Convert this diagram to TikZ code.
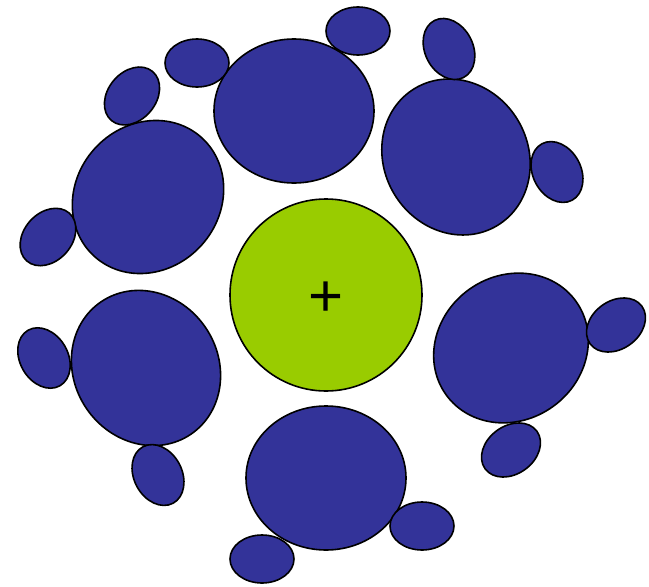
\documentclass[tikz,border=0pt]{standalone}
\usepackage{fontspec}
\setmainfont{Liberation Sans}
\definecolor{ionGreen}{HTML}{99CC00}
\definecolor{molBlue}{HTML}{333399}

\begin{document}
\begin{tikzpicture}[x=1pt, y=1pt,
    molecule/.style={fill=molBlue, draw=black, line width=1.6pt},
    ion/.style={fill=ionGreen, draw=black, line width=1.6pt}]

  \useasboundingbox (0,0) rectangle (649,-587);

  % === Central ion ===
  \draw[ion] (326,-295) circle (96pt);
  \node[font=\fontsize{60}{60}\selectfont, inner sep=0pt] (plus) at (326,-299) {+};

  % === Large molecules (shell) ===
  \draw[molecule] (294,-111) ellipse (80pt and 72pt);                   % top
  \draw[molecule, shift={(456,-157)}, rotate=-59] (0,0) ellipse (80pt and 72pt); % top right
  \draw[molecule, shift={(148,-197)}, rotate=48] (0,0) ellipse (80pt and 72pt);  % left upper
  \draw[molecule, shift={(146,-368)}, rotate=-56] (0,0) ellipse (80pt and 72pt); % left lower
  \draw[molecule, shift={(511,-348)}, rotate=36] (0,0) ellipse (80pt and 72pt);  % right
  \draw[molecule] (326,-478) ellipse (80pt and 72pt);                   % bottom

  % === Small molecules (attached) ===
  \draw[molecule] (197,-63) ellipse (32pt and 24pt);
  \draw[molecule] (358,-31) ellipse (32pt and 24pt);
  \draw[molecule, shift={(132,-96)}, rotate=50] (0,0) ellipse (32pt and 24pt);
  \draw[molecule, shift={(449,-49)}, rotate=-63] (0,0) ellipse (32pt and 24pt);
  \draw[molecule, shift={(557,-172)}, rotate=-62] (0,0) ellipse (32pt and 24pt);
  \draw[molecule, shift={(48,-237)}, rotate=48] (0,0) ellipse (32pt and 24pt);
  \draw[molecule, shift={(44,-358)}, rotate=-60] (0,0) ellipse (32pt and 24pt);
  \draw[molecule, shift={(616,-325)}, rotate=36] (0,0) ellipse (32pt and 24pt);
  \draw[molecule, shift={(511,-450)}, rotate=36] (0,0) ellipse (32pt and 24pt);
  \draw[molecule, shift={(158,-475)}, rotate=-62] (0,0) ellipse (32pt and 24pt);
  \draw[molecule] (422,-526) ellipse (32pt and 24pt);
  \draw[molecule] (262,-559) ellipse (32pt and 24pt);

\end{tikzpicture}
\end{document}
